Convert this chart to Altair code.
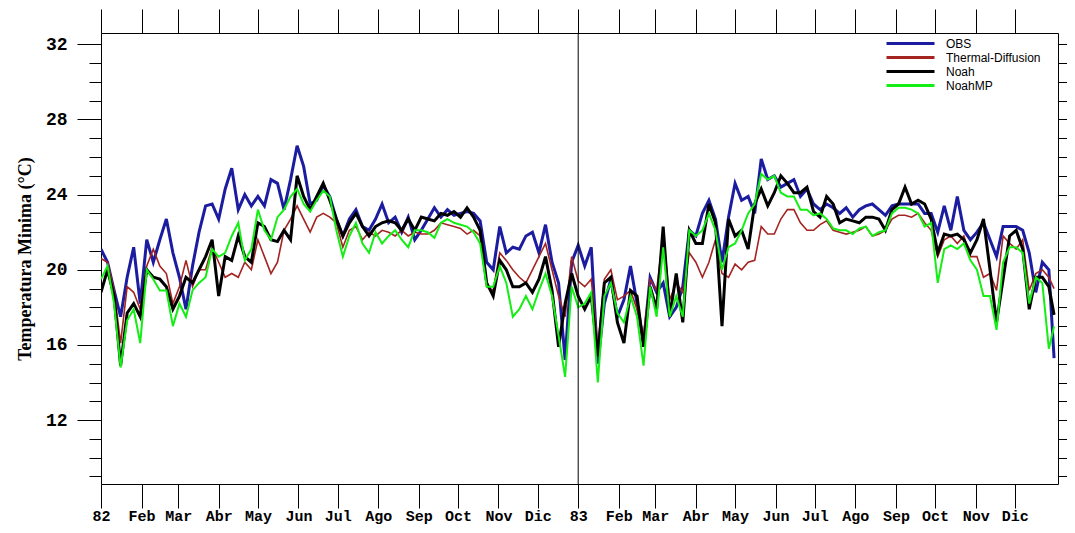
import altair as alt
import pandas as pd

# day index (0 = 1 Jan 1982), sampled every 5 days
days = list(range(0, 726, 5)) + [729]

obs = [21.1, 20.4, 18.9, 17.5, 19.6, 21.2, 18.2, 21.6, 20.4, 21.6, 22.7, 20.9, 19.6, 17.9, 20.2, 22.0, 23.4, 23.5, 22.7, 24.3, 25.4, 23.2, 24.0, 23.4, 23.9,
       23.4, 24.8, 24.6, 23.2, 24.8, 26.6, 25.5, 23.5, 23.7, 24.5, 23.9, 22.7, 21.8, 22.7, 23.2, 22.3, 22.1, 22.7, 23.5, 22.5, 22.8, 22.0, 22.8, 21.6,
       22.1, 22.7, 23.3, 22.8, 23.2, 22.9, 23.0, 23.1, 23.0, 22.6, 20.4, 20.0, 22.3, 20.9, 21.2, 21.1, 21.8, 22.0, 20.9, 22.4, 20.4, 19.3, 15.2, 20.4,
       21.3, 20.2, 21.2, 15.0, 18.2, 19.5, 17.5, 18.4, 20.2, 18.2, 16.1, 19.6, 18.8, 19.3, 17.5, 18.0, 19.1, 22.1, 21.8, 23.0, 23.7, 22.7, 20.4, 22.8,
       24.6, 23.7, 23.9, 23.0, 25.9, 24.8, 25.0, 24.4, 24.6, 24.8, 23.9, 24.3, 23.5, 23.2, 23.5, 23.3, 23.0, 23.3, 22.8, 23.2, 23.4, 23.5, 23.2, 22.9, 23.4,
       23.5, 23.5, 23.5, 23.5, 23.0, 23.0, 22.0, 23.4, 22.1, 23.9, 22.1, 21.6, 22.0, 22.5, 21.6, 20.7, 22.3, 22.3, 22.3, 22.1, 20.9, 18.8, 20.4, 20.0, 15.3]

thermal = [20.6, 20.4, 18.9, 16.1, 19.1, 18.8, 17.9, 20.2, 21.1, 20.2, 19.8, 18.2, 19.1, 20.5, 19.1, 20.0, 20.0, 21.2, 20.4, 19.6, 19.8, 19.6, 20.4, 20.0, 21.6,
           20.7, 19.8, 20.4, 22.1, 22.7, 23.4, 22.7, 22.0, 22.8, 23.0, 22.8, 22.5, 21.2, 22.1, 22.3, 21.6, 22.0, 21.8, 22.1, 22.0, 21.8, 22.1, 21.8, 22.0,
           21.9, 21.9, 22.1, 22.5, 22.4, 22.3, 22.2, 21.9, 22.1, 21.8, 19.1, 18.9, 20.9, 20.5, 20.0, 19.6, 19.3, 20.0, 20.7, 21.4, 20.0, 18.6, 17.5, 20.7,
           19.4, 19.1, 19.5, 15.9, 19.5, 20.0, 18.4, 18.6, 18.9, 17.9, 16.5, 19.5, 18.9, 21.9, 18.4, 19.3, 18.8, 20.9, 20.4, 19.6, 20.4, 21.6, 19.8, 19.6,
           20.3, 20.0, 20.4, 20.5, 22.3, 21.9, 21.9, 22.7, 23.2, 23.2, 22.5, 22.1, 22.1, 22.4, 22.6, 22.1, 22.0, 21.9, 22.0, 22.1, 22.3, 21.8, 21.9, 22.1, 22.7,
           22.9, 22.9, 22.8, 23.0, 22.5, 22.1, 20.7, 21.6, 21.8, 21.4, 21.8, 20.7, 20.7, 19.6, 19.8, 18.9, 21.8, 21.4, 21.1, 21.6, 18.9, 19.8, 20.0, 19.6, 19.0]

noah = [18.8, 20.0, 18.6, 14.9, 17.7, 18.2, 17.5, 20.0, 19.6, 19.5, 19.1, 17.9, 18.6, 19.6, 19.3, 20.0, 20.7, 21.6, 18.6, 20.7, 20.5, 21.8, 20.7, 20.4, 22.5,
        22.3, 21.6, 21.5, 22.1, 21.6, 25.0, 23.9, 23.2, 23.9, 24.6, 23.7, 22.7, 21.8, 22.5, 23.0, 22.3, 21.8, 22.3, 22.5, 22.6, 22.5, 22.1, 22.7, 22.1,
        22.8, 22.7, 22.6, 23.0, 22.9, 23.1, 22.8, 23.3, 22.8, 22.1, 19.3, 18.6, 20.5, 20.0, 19.1, 19.1, 19.3, 18.8, 19.5, 20.7, 18.9, 15.9, 18.2, 19.8,
        18.6, 17.9, 18.6, 15.4, 19.3, 19.6, 17.2, 16.1, 18.9, 18.6, 15.9, 19.1, 17.9, 22.3, 17.5, 19.8, 17.2, 22.1, 21.4, 21.4, 23.5, 22.5, 17.0, 22.7,
        21.8, 22.1, 21.1, 23.5, 24.3, 23.4, 24.1, 25.0, 24.6, 24.1, 24.1, 24.4, 23.1, 22.8, 23.9, 23.5, 22.5, 22.7, 22.6, 22.5, 22.8, 22.8, 22.7, 22.1, 23.2,
        23.5, 24.4, 23.5, 23.7, 23.5, 22.7, 20.9, 21.9, 21.8, 21.9, 21.6, 20.9, 21.6, 22.7, 20.0, 17.2, 19.5, 21.8, 22.1, 21.1, 17.9, 19.6, 19.6, 19.1, 17.6]

noahmp = [19.5, 20.2, 18.2, 14.8, 17.3, 17.9, 16.1, 20.0, 19.5, 18.9, 18.9, 17.0, 18.2, 17.5, 18.9, 19.3, 19.6, 21.1, 20.7, 20.9, 21.8, 22.5, 20.5, 21.1, 23.2,
          22.1, 21.6, 22.8, 23.2, 23.9, 24.3, 23.5, 23.1, 23.7, 24.2, 23.9, 22.1, 20.7, 21.8, 22.5, 21.4, 20.9, 22.0, 21.4, 21.8, 22.1, 21.6, 21.2, 22.1,
          22.1, 22.0, 21.7, 22.5, 22.7, 22.5, 22.4, 22.3, 22.0, 21.4, 19.1, 19.1, 20.2, 19.3, 17.5, 17.9, 18.6, 17.9, 18.9, 19.8, 18.6, 16.5, 14.3, 19.1,
          18.0, 18.2, 18.8, 14.0, 18.6, 19.3, 17.7, 17.2, 18.6, 17.5, 14.9, 19.1, 17.5, 21.2, 17.5, 18.6, 17.5, 22.1, 21.8, 22.1, 23.0, 22.1, 20.0, 21.2,
          21.4, 22.1, 23.0, 23.5, 25.1, 24.8, 25.0, 24.1, 23.9, 23.9, 23.2, 23.2, 22.9, 23.0, 22.7, 22.2, 22.1, 22.1, 21.9, 22.2, 22.3, 21.8, 22.0, 22.1, 23.0,
          23.3, 23.3, 23.2, 23.0, 22.3, 22.5, 19.3, 21.1, 21.3, 21.1, 21.4, 20.5, 20.0, 18.6, 18.6, 16.8, 20.4, 21.2, 21.2, 20.9, 18.2, 19.6, 19.3, 15.8, 17.0]

series_names = ["OBS", "Thermal-Diffusion", "Noah", "NoahMP"]
series_colors = ["#1c1ca0", "#a32420", "#000000", "#14ee14"]
series_widths = [3.0, 1.6, 3.0, 2.0]

month_days = [0, 31, 59, 90, 120, 151, 181, 212, 243, 273, 304, 334,
              365, 396, 424, 455, 485, 516, 546, 577, 608, 638, 669, 699]
month_labels = ["82", "Feb", "Mar", "Abr", "May", "Jun", "Jul", "Ago", "Sep", "Oct", "Nov", "Dic",
                "83", "Feb", "Mar", "Abr", "May", "Jun", "Jul", "Ago", "Sep", "Oct", "Nov", "Dic"]
year_break = [365]
y_major = [12, 16, 20, 24, 28, 32]
y_minor = list(range(9, 33))

rows = []
for name, vals in zip(series_names, [obs, thermal, noah, noahmp]):
    assert len(vals) == len(days), (name, len(vals))
    for d, v in zip(days, vals):
        rows.append({"day": d, "temp": v, "series": name})
df = pd.DataFrame(rows)

xscale = alt.Scale(domain=[0, 732], nice=False, zero=False)
yscale = alt.Scale(domain=[8.6, 32.6], nice=False, zero=False)
cscale = alt.Scale(domain=series_names, range=series_colors)

label_expr = ("[" + ",".join("'%s'" % s for s in month_labels) + "][indexof(["
              + ",".join(str(d) for d in month_days) + "], datum.value)]")

mono = "Liberation Mono"

x_bottom = alt.Axis(orient="bottom", values=month_days, labelExpr=label_expr, tickSize=24,
                    labelFont=mono, labelFontWeight="bold", labelFontSize=15, labelPadding=0,
                    labelColor="black", tickColor="black", domain=False, grid=False, title=None,
                    labelFlush=False, labelOverlap=False, labelBound=False)
y_left = alt.Axis(orient="left", values=y_major, tickSize=24, labelFont=mono, labelFontWeight="bold",
                  labelFontSize=18, labelPadding=10, labelColor="black", tickColor="black",
                  domain=False, grid=False, title="Temperatura Minima (°C)",
                  titleFont="Liberation Serif", titleFontSize=18, titleFontWeight="bold",
                  titleColor="black", titlePadding=11)

legend = alt.Legend(title=None, orient="none", legendX=802, legendY=3, symbolType="M-4,0H4",
                    symbolSize=144, symbolStrokeWidth=3, labelFont="Liberation Sans",
                    labelFontSize=12, labelOffset=28, rowPadding=0, padding=0, labelColor="black")

layers = []
for i, (name, w) in enumerate(zip(series_names, series_widths)):
    layers.append(
        alt.Chart(df).transform_filter(alt.datum.series == name)
        .mark_line(strokeWidth=w, clip=True)
        .encode(
            x=alt.X("day:Q", scale=xscale, axis=x_bottom if i == 0 else None),
            y=alt.Y("temp:Q", scale=yscale, axis=y_left if i == 0 else None),
            color=alt.Color("series:N", scale=cscale, legend=legend),
        )
    )

vline = alt.Chart(pd.DataFrame({"day": year_break})).mark_rule(color="black", strokeWidth=1).encode(
    x=alt.X("day:Q", scale=xscale, axis=None)
)

helper_df = pd.DataFrame({"day": [0], "temp": [20.0]})

def helper(xaxis, yaxis):
    return alt.Chart(helper_df).mark_point(opacity=0).encode(
        x=alt.X("day:Q", scale=xscale, axis=xaxis),
        y=alt.Y("temp:Q", scale=yscale, axis=yaxis),
    )

tick_common = dict(labels=False, domain=False, grid=False, title=None, tickColor="black")
h1 = helper(alt.Axis(orient="top", values=month_days, tickSize=24, **tick_common),
            alt.Axis(orient="left", values=y_minor, tickSize=12, **tick_common))
h2 = helper(None, alt.Axis(orient="right", values=y_major, tickSize=24, **tick_common))
h3 = helper(None, alt.Axis(orient="right", values=y_minor, tickSize=12, **tick_common))

chart = (
    alt.layer(*layers, vline, h1, h2, h3)
    .resolve_axis(x="independent", y="independent")
    .properties(width=957, height=451,
                autosize=alt.AutoSizeParams(type="none"),
                padding={"left": 93, "top": 25, "right": 9, "bottom": 41})
    .configure(background="white")
    .configure_view(stroke="black", strokeWidth=1)
)

chart.save("out.html", embed_options={"renderer": "svg", "actions": False})
